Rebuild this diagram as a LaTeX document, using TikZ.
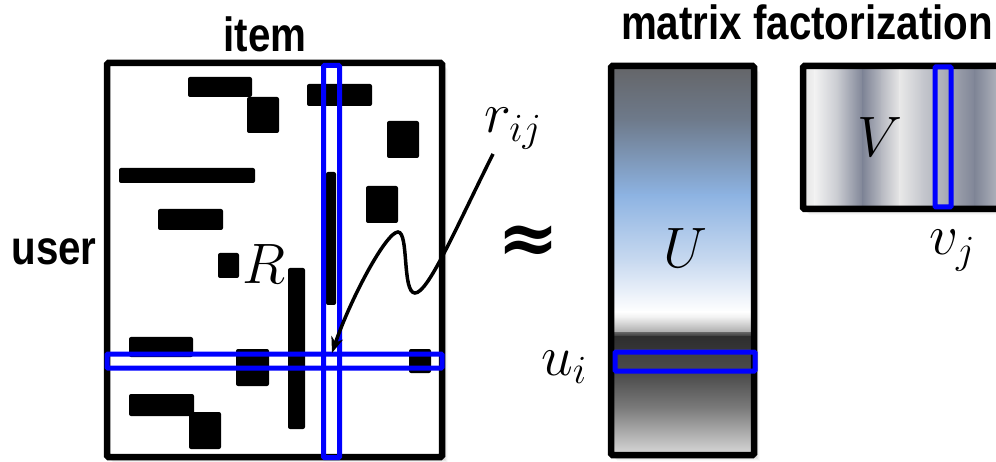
\RequirePackage{fix-cm}
\documentclass[tikz,border=0pt]{standalone}
\usepackage{fontspec}
\setmainfont{Liberation Sans}
\newfontfamily\symfam{DejaVu Serif}
\usetikzlibrary{arrows.meta}
\definecolor{selblue}{RGB}{0,0,255}
% U stops
\definecolor{ua}{HTML}{646568}
\definecolor{ub}{HTML}{6E7A8B}
\definecolor{uc}{HTML}{8DB3E2}
\definecolor{ud}{HTML}{C9DAF0}
\definecolor{ue}{HTML}{FFFFFF}
\definecolor{uf}{HTML}{EEEEEE}
\definecolor{ug}{HTML}{A8A8A8}
\definecolor{uh}{HTML}{606060}
\definecolor{ui}{HTML}{2E2E2E}
\definecolor{uj}{HTML}{363636}
\definecolor{uk}{HTML}{404040}
\definecolor{ul}{HTML}{4C4C4C}
\definecolor{um}{HTML}{7E7E7E}
\definecolor{un}{HTML}{DADADA}
% V stops
\definecolor{va}{HTML}{E4E4E4}
\definecolor{vb}{HTML}{F2F2F2}
\definecolor{vc}{HTML}{C8CAD0}
\definecolor{vd}{HTML}{7E8496}
\definecolor{ve}{HTML}{B8BAC2}
\definecolor{vf}{HTML}{E8E8E8}
\definecolor{vg}{HTML}{C6C8CE}
\definecolor{vh}{HTML}{AAADB7}
\definecolor{vi}{HTML}{7F8596}
\definecolor{vj}{HTML}{B4B7C0}
\begin{document}
\begin{tikzpicture}[x=1pt,y=-1pt,
  blk/.style={fill=black,rounded corners=2pt},
  sel/.style={draw=selblue,line width=5pt,rounded corners=1pt},
  frame/.style={draw=black,line width=6.5pt,rounded corners=1.5pt},
  lab/.style={font=\fontsize{48}{50}\selectfont\bfseries,inner sep=0pt},
  mlab/.style={font=\fontsize{57}{60}\selectfont,inner sep=0pt},
  symlab/.style={font=\fontsize{74}{78}\selectfont\symfam\bfseries,inner sep=0pt},
  arr/.style={draw=black,line width=3.5pt,-{Stealth[length=16pt,width=12pt,inset=5pt]}},
  shd/.style={fill=black}]
\useasboundingbox (0,0) rectangle (996,462);

% ---------- labels ----------
\node[lab,anchor=base] (item) at (265,52) {\scalebox{0.84}[1]{item}};
\node[lab,anchor=base] (user) at (54,265) {\scalebox{0.84}[1]{user}};
\node[lab,anchor=base] (mf) at (807,40) {\scalebox{0.84}[1]{matrix factorization}};

% ---------- R matrix ----------
\foreach \k/\o in {1/0.12,2/0.09,3/0.07,4/0.05,5/0.03,6/0.02}
  \fill[shd,opacity=\o] (107+\k,63+\k) rectangle (442+\k,457+\k);
\filldraw[frame,fill=white] (107,63) rectangle (442,457);

\fill[blk] (188,77) rectangle (252,97);
\fill[blk] (247,97) rectangle (279,133);
\fill[blk] (307,84) rectangle (372,106);
\fill[blk] (387,121) rectangle (419,158);
\fill[blk] (119,168) rectangle (255,183);
\fill[blk] (366,186) rectangle (398,223);
\fill[blk] (158,209) rectangle (223,230);
\fill[blk] (326,172) rectangle (336,305);
\fill[blk] (218,253) rectangle (239,278);
\fill[blk] (288,268) rectangle (305,429);
\fill[blk] (129,337) rectangle (193,357);
\fill[blk] (236,349) rectangle (269,386);
\fill[blk] (409,349) rectangle (431,373);
\fill[blk] (129,394) rectangle (194,416);
\fill[blk] (189,412) rectangle (221,449);

\node[mlab,anchor=base] (R) at (264,284) {$R$};

\draw[sel] (107,354) rectangle (442,368);
\draw[sel] (323.5,65.5) rectangle (339.5,457.5);

% ---------- r_ij and arrow ----------
\node[mlab,anchor=base west] (rij) at (484,133) {$r_{ij}$};
\coordinate (rtail) at (493,154);
\coordinate (cross) at (332,353);
\draw[arr] (rtail) .. controls (455,230) and (428,293) .. (415,293)
  .. controls (402,293) and (409,232) .. (398,232)
  .. controls (386,232) and (350,300) .. (cross);

% ---------- approx ----------
\node[symlab] (approx) at (528,245) {≈};

% ---------- U ----------
\foreach \k/\o in {1/0.12,2/0.09,3/0.07,4/0.05,5/0.03,6/0.02}
  \fill[shd,opacity=\o] (611+\k,66+\k) rectangle (754+\k,455+\k);
\foreach \ya/\yb/\ca/\cb in {66/120/ua/ub,120/195/ub/uc,195/262/uc/ud,262/312/ud/ue,312/318/ue/uf,318/333/uf/ug,333/337/uh/ui,337/350/ui/uj,350/375/uk/ul,375/410/ul/um,410/455/um/un}
  \shade[top color=\ca,bottom color=\cb] (611,\ya-0.4) rectangle (754,\yb+0.4);
\draw[frame] (611,66) rectangle (754,455);
\node[mlab,anchor=base] (U) at (685,268) {$U$};
\draw[sel] (615,352) rectangle (755,371);
\node[mlab,anchor=base west] (ui) at (541,375) {$u_i$};

% ---------- V ----------
\foreach \k/\o in {1/0.12,2/0.09,3/0.07,4/0.05,5/0.03,6/0.02}
  \fill[shd,opacity=\o] (803+\k,66+\k) rectangle (1015+\k,209+\k);
\foreach \xa/\xb/\ca/\cb in {803/815/va/vb,815/838/vb/vc,838/863/vc/vd,863/882/vd/ve,882/900/ve/vf,900/922/vf/vg,922/945/vg/vh,945/975/vh/vi,975/1000/vi/vj,1000/1015/vj/vj}
  \shade[left color=\ca,right color=\cb] (\xa-0.4,66) rectangle (\xb+0.4,209);
\draw[frame] (803,66) rectangle (1015,209);
\node[mlab,anchor=base] (V) at (880,157) {$V$};
\draw[sel] (935,67) rectangle (951,207);
\node[mlab,anchor=base west] (vj) at (929,255) {$v_j$};
\end{tikzpicture}
\end{document}
